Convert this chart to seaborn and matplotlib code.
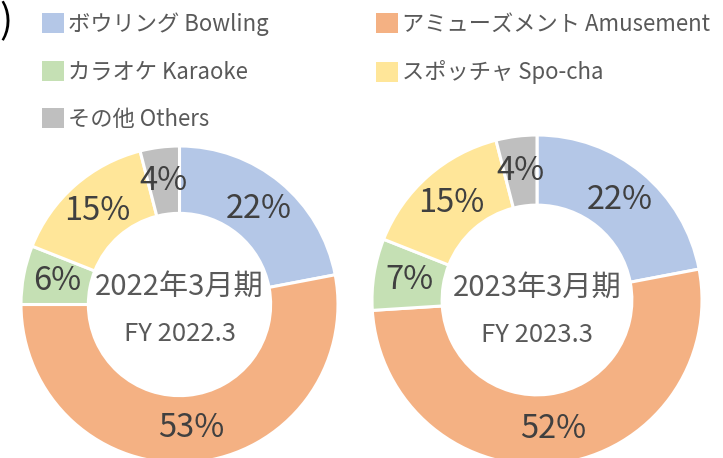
import numpy as np
import pandas as pd
import seaborn as sns
import matplotlib.pyplot as plt
from matplotlib.patches import Patch

segments = ['ボウリング Bowling', 'アミューズメント Amusement', 'カラオケ Karaoke',
            'スポッチャ Spo-cha', 'その他 Others']
share_2022 = [22, 53, 6, 15, 4]
share_2023 = [22, 52, 7, 15, 4]
period_jp = ['2022年3月期', '2023年3月期']
period_en = ['FY 2022.3', 'FY 2023.3']
seg_colors = ['#B4C7E7', '#F4B183', '#C5E0B4', '#FFE699', '#BFBFBF']

df = pd.DataFrame({'segment': segments, '2022': share_2022, '2023': share_2023})

sns.set_theme(style='white')
plt.rcParams['font.family'] = ['Noto Sans CJK JP', 'DejaVu Sans']
palette = sns.color_palette(seg_colors)

fig = plt.figure(figsize=(7.23, 4.58), dpi=100)
W, H = 723, 458

# (center x, center y from top, radius) in pixels, label offsets for center text
layouts = [(179.5, 304.5, 158.5, 0.11, -0.185), (537, 300, 165, 0.075, -0.21)]
hole = 0.575

for col, jp, en, (cx, cy, r, y1, y2) in zip(['2022', '2023'], period_jp, period_en, layouts):
    ax = fig.add_axes([(cx - r) / W, (H - cy - r) / H, 2 * r / W, 2 * r / H])
    wedges, texts, autotexts = ax.pie(
        df[col], colors=palette, startangle=90, counterclock=False, radius=1,
        wedgeprops=dict(width=1 - hole, edgecolor='white', linewidth=2.2),
        autopct=lambda p: f'{p:.0f}%', pctdistance=0.785,
        textprops=dict(fontsize=23.5, color='#404040'))
    ax.text(0, y1, jp, ha='center', va='center', fontsize=21, color='#595959')
    ax.text(0, y2, en, ha='center', va='center', fontsize=18.5, color='#595959')
    ax.set_xlim(-1, 1)
    ax.set_ylim(-1, 1)
    ax.set_aspect('equal')
    ax.axis('off')

# legend filled column-first, so reorder to get row-wise layout
order = [0, 2, 4, 1, 3]
handles = [Patch(facecolor=palette[i], edgecolor='none') for i in order]
labels = [segments[i] for i in order]
fig.legend(handles, labels, ncol=2, loc='upper left', bbox_to_anchor=(42 / W, 1 - 12 / H),
           frameon=False, fontsize=16, handlelength=1.0, handleheight=1.0,
           handletextpad=0.15, columnspacing=4.86, labelspacing=1.11,
           borderaxespad=0, borderpad=0, labelcolor='#595959')

fig.text(13 / W, 1 - 22 / H, ')', ha='right', va='center', fontsize=28, color='black')

fig.savefig('out.png', dpi=100)
